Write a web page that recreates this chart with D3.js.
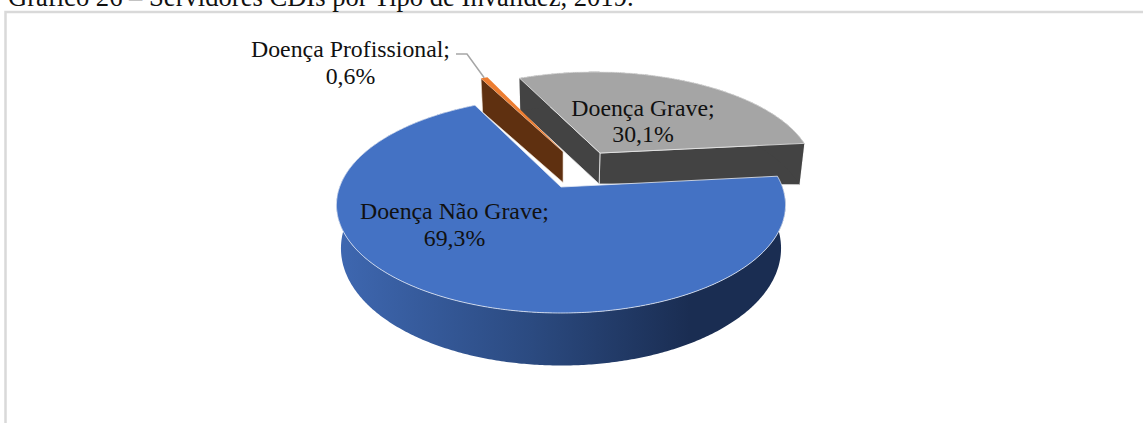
<!DOCTYPE html>
<html>
<head>
<meta charset="utf-8">
<script src="https://cdn.jsdelivr.net/npm/d3@7"></script>
<style>
  html, body { margin: 0; background: #fff; overflow: hidden; }
  text { font-family: "Liberation Serif", serif; fill: #111; }
</style>
</head>
<body>
<div id="chart"></div>
<script>
// data
const categories = ['Doença Não Grave', 'Doença Profissional', 'Doença Grave'];
const shares     = [69.3, 0.6, 30.1];
const shareLabels = ['69,3%', '0,6%', '30,1%'];
const topColors  = ['#4472c4', '#ed7d31', '#a5a5a5'];
const wallColors = ['#2b4a80', '#5f3010', '#434343'];

const W = 1143, H = 423;
const svg = d3.select('#chart').append('svg').attr('width', W).attr('height', H);

/* -------- page frame and cut-off caption -------- */
svg.append('path')
  .attr('d', `M${W},12H5.5V${H}`)
  .attr('fill', 'none').attr('stroke', '#d9d9d9').attr('stroke-width', 2.5);
svg.append('text').attr('x', 8).attr('y', 6).style('font-size', '26.6px')
  .text('Gráfico 26 – Servidores CDIs por Tipo de Invalidez, 2019.');

/* -------- perspective disc -------- */
const apex = { x: 561, y: 187 };
const radiusX = 221.4, radiusY = 105, persp = 1 / 6;

function topPoint (u, v) {
  const w = 1 + persp * v;
  return [apex.x + radiusX * u / w, apex.y - radiusY * v / w];
}
// the floor of the pie: nearer points show a deeper wall
function floorPoint (u, v) {
  const p = topPoint(u, v);
  const depth = 33.5 - 11 * v + 8 * (u * u + v * v);
  return [apex.x + (p[0] - apex.x) * 0.98, p[1] + depth];
}

const pie = d3.pie().sort(null).value(d => d)
  .startAngle(84 * Math.PI / 180)
  .endAngle(444 * Math.PI / 180);
const slices = pie(shares);

// how far each slice is pulled out of the pie (disc units)
const pull = [[0, 0], [0.01, 0.355], [0.186, 0.342]];

const line = d3.line();
const rim = (d, i, project) => {
  const n = Math.max(2, Math.ceil((d.endAngle - d.startAngle) / 0.01));
  return d3.range(n + 1).map(k => {
    const a = d.startAngle + (d.endAngle - d.startAngle) * k / n;
    return project(pull[i][0] + Math.sin(a), pull[i][1] + Math.cos(a));
  });
};
const radial = (i, a, project) => [
  project(pull[i][0], pull[i][1]),
  project(pull[i][0] + Math.sin(a), pull[i][1] + Math.cos(a))
];
const wallPath = (edge, floor) => line(edge.concat(floor.slice().reverse())) + 'Z';

/* -------- shading of the round wall -------- */
const grad = svg.append('defs').append('linearGradient')
  .attr('id', 'wallGrad').attr('gradientUnits', 'userSpaceOnUse')
  .attr('x1', 340).attr('y1', 0).attr('x2', 690).attr('y2', 0);
grad.append('stop').attr('offset', '0%').attr('stop-color', '#3e67b0');
grad.append('stop').attr('offset', '55%').attr('stop-color', wallColors[0]);
grad.append('stop').attr('offset', '100%').attr('stop-color', '#1a2d52');

const g = svg.append('g').attr('stroke-linejoin', 'round');

/* -------- Doença Grave -------- */
const grave = slices[2];
[grave.endAngle, grave.startAngle].forEach(a => {
  g.append('path')
    .attr('d', wallPath(radial(2, a, topPoint), radial(2, a, floorPoint)))
    .attr('fill', wallColors[2])
    .attr('stroke', '#e8e8e8').attr('stroke-width', 0.8);
});
const graveOuter = rim(grave, 2, topPoint);
g.append('path')
  .attr('d', wallPath(graveOuter, rim(grave, 2, floorPoint)))
  .attr('fill', wallColors[2]);
g.append('path')
  .attr('d', line([topPoint(pull[2][0], pull[2][1])].concat(graveOuter)) + 'Z')
  .attr('fill', topColors[2])
  .attr('stroke', '#e8e8e8').attr('stroke-width', 0.8);

/* -------- Doença Profissional -------- */
const prof = slices[1];
g.append('path')
  .attr('d', wallPath(radial(1, prof.startAngle, topPoint), radial(1, prof.startAngle, floorPoint)))
  .attr('fill', wallColors[1])
  .attr('stroke', '#f3e7dc').attr('stroke-width', 0.6);
const profOuter = rim(prof, 1, topPoint);
g.append('path')
  .attr('d', line([topPoint(pull[1][0], pull[1][1])].concat(profOuter)) + 'Z')
  .attr('fill', topColors[1]);

/* -------- Doença Não Grave -------- */
const naoGrave = slices[0];
const blueOuter = rim(naoGrave, 0, topPoint);
g.append('path')
  .attr('d', wallPath(blueOuter, rim(naoGrave, 0, floorPoint)))
  .attr('fill', 'url(#wallGrad)');
g.append('path')
  .attr('d', line([topPoint(0, 0)].concat(blueOuter)) + 'Z')
  .attr('fill', topColors[0])
  .attr('stroke', '#e6ebf5').attr('stroke-width', 0.8);

/* -------- leader of the small slice -------- */
const leaderEnd = profOuter[Math.floor(profOuter.length / 2)];
svg.append('path')
  .attr('d', line([[456, 54], [467, 54], leaderEnd]))
  .attr('fill', 'none').attr('stroke', '#a6a6a6').attr('stroke-width', 1.5);

/* -------- labels -------- */
const labelAt = [[454.5, 219, 246], [350.5, 57, 84], [643, 116, 142]];
categories.forEach((name, i) => {
  const t = svg.append('text').attr('text-anchor', 'middle').style('font-size', '23.8px');
  t.append('tspan').attr('x', labelAt[i][0]).attr('y', labelAt[i][1]).text(name + ';');
  t.append('tspan').attr('x', labelAt[i][0]).attr('y', labelAt[i][2]).text(shareLabels[i]);
});
</script>
</body>
</html>
